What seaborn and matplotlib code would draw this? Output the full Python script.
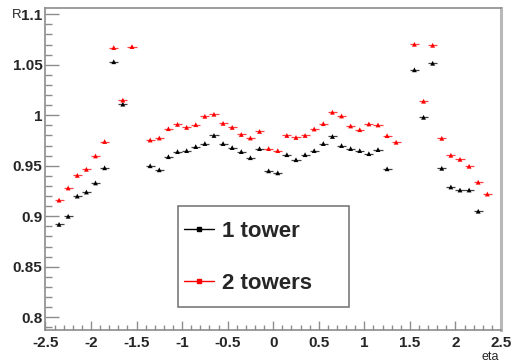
import numpy as np
import pandas as pd
import matplotlib
matplotlib.use("Agg")
import matplotlib.pyplot as plt
from matplotlib.lines import Line2D
from matplotlib.patches import Rectangle
from matplotlib.ticker import MultipleLocator, FixedLocator
import seaborn as sns

# ---------------- data ----------------
eta = [-2.35, -2.25, -2.15, -2.05, -1.95, -1.85, -1.75, -1.65, -1.55, -1.45,
       -1.35, -1.25, -1.15, -1.05, -0.95, -0.85, -0.75, -0.65, -0.55, -0.45,
       -0.35, -0.25, -0.15, -0.05, 0.05, 0.15, 0.25, 0.35, 0.45, 0.55,
       0.65, 0.75, 0.85, 0.95, 1.05, 1.15, 1.25, 1.35, 1.45, 1.55,
       1.65, 1.75, 1.85, 1.95, 2.05, 2.15, 2.25, 2.35]

r_1tower = [0.892, 0.900, 0.920, 0.924, 0.933, 0.948, 1.053, 1.011, np.nan, np.nan,
            0.950, 0.946, 0.959, 0.964, 0.965, 0.969, 0.972, 0.980, 0.972, 0.968,
            0.964, 0.958, 0.967, 0.945, 0.943, 0.961, 0.956, 0.961, 0.965, 0.972,
            0.979, 0.970, 0.967, 0.965, 0.962, 0.966, 0.947, np.nan, np.nan, 1.045,
            0.998, 1.0515, 0.9475, 0.929, 0.926, 0.926, 0.905, np.nan]

r_2towers = [0.916, 0.928, 0.9405, 0.9465, 0.9597, 0.974, 1.067, 1.015, 1.068, np.nan,
             0.9755, 0.9775, 0.9867, 0.991, 0.988, 0.9907, 0.999, 1.001, 0.992, 0.988,
             0.981, 0.9775, 0.984, 0.967, 0.965, 0.980, 0.978, 0.980, 0.9864, 0.9917,
             1.003, 0.9993, 0.9894, 0.9857, 0.9914, 0.9904, 0.9798, 0.9733, np.nan, 1.0703,
             1.0139, 1.0693, 0.9772, 0.9604, 0.9564, 0.9495, 0.9337, 0.922]

bin_halfwidth = 0.05
series_names = ["1 tower", "2 towers"]
series_colors = ["black", "red"]

x_ticks = [-2.5, -2, -1.5, -1, -0.5, 0, 0.5, 1, 1.5, 2, 2.5]
x_ticklabels = ["-2.5", "-2", "-1.5", "-1", "-0.5", "0", "0.5", "1", "1.5", "2", "2.5"]
y_ticks = [0.8, 0.85, 0.9, 0.95, 1.0, 1.05, 1.1]
y_ticklabels = ["0.8", "0.85", "0.9", "0.95", "1", "1.05", "1.1"]

df = pd.concat([
    pd.DataFrame({"eta": eta, "R": r_1tower, "series": series_names[0]}),
    pd.DataFrame({"eta": eta, "R": r_2towers, "series": series_names[1]}),
]).dropna()

# ---------------- style ----------------
sns.set_style("white")
plt.rcParams["font.family"] = ["Liberation Sans", "DejaVu Sans"]
plt.rcParams["axes.unicode_minus"] = False

fig = plt.figure(figsize=(5.13, 3.63), dpi=100)
ax = fig.add_axes([45.4 / 513, 1 - 330 / 363, (501 - 45.4) / 513, (330 - 8) / 363])

frame_col = "#8c8c8c"

for name, col in zip(series_names, series_colors):
    sub = df[df["series"] == name]
    ax.errorbar(sub["eta"], sub["R"], xerr=bin_halfwidth, fmt="none",
                ecolor=col, elinewidth=0.9, alpha=0.75, zorder=2)

sns.scatterplot(data=df, x="eta", y="R", hue="series", palette=series_colors,
                marker="^", s=12, linewidth=0, legend=False, ax=ax, zorder=3)

ax.set_xlim(-2.5, 2.5)
ax.set_ylim(0.7874, 1.1062)
ax.set_xlabel("")
ax.set_ylabel("")

ax.xaxis.set_major_locator(FixedLocator(x_ticks))
ax.set_xticklabels(x_ticklabels, fontsize=11, fontweight="bold")
ax.xaxis.set_minor_locator(MultipleLocator(0.1))
ax.yaxis.set_major_locator(FixedLocator(y_ticks))
ax.set_yticklabels(y_ticklabels, fontsize=11, fontweight="bold")
ax.yaxis.set_minor_locator(MultipleLocator(0.01))

ax.tick_params(axis="y", which="major", direction="in", length=10, width=1,
               color=frame_col, pad=2, left=True, right=False)
ax.tick_params(axis="y", which="minor", direction="in", length=5, width=1,
               color=frame_col, left=True, right=False)
ax.tick_params(axis="x", which="major", direction="in", length=6.5, width=1,
               color=frame_col, pad=4.5, bottom=True, top=False)
ax.tick_params(axis="x", which="minor", direction="in", length=3.6, width=1,
               color=frame_col, bottom=True, top=False)

for s in ["left", "bottom", "top"]:
    ax.spines[s].set_color(frame_col)
    ax.spines[s].set_linewidth(1.2)
ax.spines["right"].set_color("#b8b8b8")
ax.spines["right"].set_linewidth(2.2)

# legend box
ax.add_patch(Rectangle((0.291, 0.0714), 0.375, 0.314, transform=ax.transAxes,
                       facecolor="white", edgecolor="#7a7a7a", linewidth=1.2, zorder=5))
handles = [Line2D([], [], color=c, lw=1, marker="s", markersize=2.5) for c in series_colors]
leg = ax.legend(handles, series_names, loc="center left",
                bbox_to_anchor=(0.304, 0.226), frameon=False, borderpad=0,
                borderaxespad=0, handlelength=1.36, handletextpad=0.36,
                labelspacing=1.38, prop={"size": 16, "weight": "bold"})
leg.set_zorder(6)

fig.text(12 / 513, 1 - 14.5 / 363, "R", fontsize=9.5, ha="left", va="center")
fig.text(499 / 513, 1 - 357.5 / 363, "eta", fontsize=9, ha="right", va="center")

fig.savefig("out.png", dpi=100)
